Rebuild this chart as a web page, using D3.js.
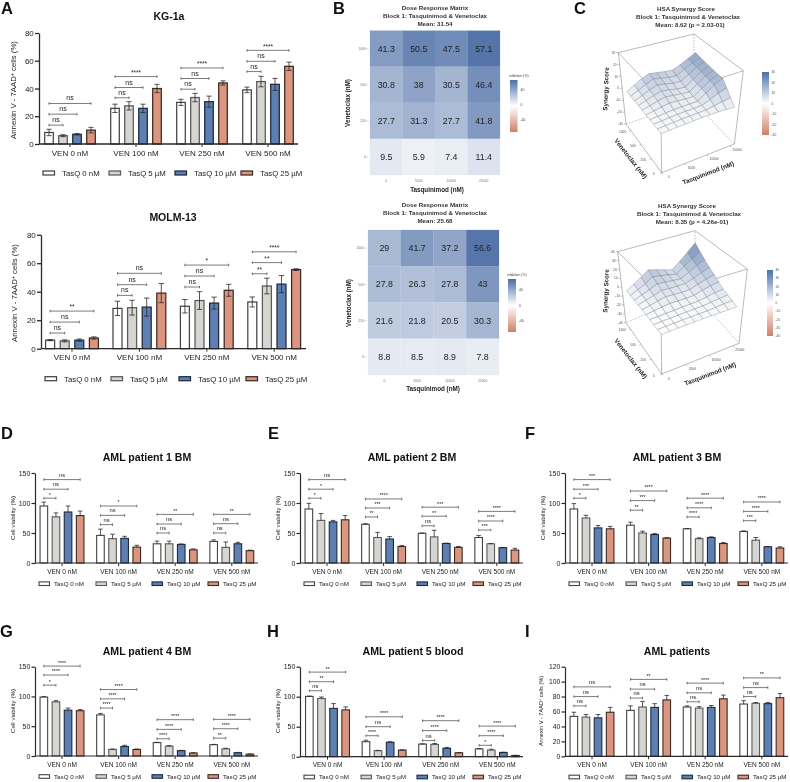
<!DOCTYPE html>
<html><head><meta charset="utf-8">
<script src="https://cdn.jsdelivr.net/npm/d3@7"></script>
<style>
html,body{margin:0;padding:0;background:#fff}
svg{display:block;filter:blur(.3px)}
text{font-family:"Liberation Sans",Arial,sans-serif;fill:#222}
</style></head><body><svg id="c" width="790" height="782"></svg>
<script>
// ---------- shared categories ----------
const groups = ["VEN 0 nM","VEN 100 nM","VEN 250 nM","VEN 500 nM"];
const series = ["TasQ 0 nM","TasQ 5 µM","TasQ 10 µM","TasQ 25 µM"];
const seriesColors = ["#ffffff","#d5d5d1","#5d7fb3","#dc967f"];
const seriesStrokes = ["#444444","#5a5a5a","#1f2a3d","#3a2a26"];
const yTicksA = [0,20,40,60,80];
const yTicksV = [0,50,100,150];
const yTicksI = [0,20,40,60,80,100,120];
const annexinLabel = "Annexin V - 7AAD";
const viabilityLabel = "Cell viability (%)";

// ---------- bar panels: means, errors, bracket heights, bracket labels ----------
const kg1aMeans=[[8.3,6,7,10],[25.7,27.5,25.7,40],[30,33.5,30.5,44],[39,45,43,56]];
const kg1aErr=[[2.3,.7,.5,2],[3,3,3,3],[2.2,3,4,1.5],[2,3.8,4.3,3]];
const kg1aBrY=[[13.6,21.5,29.2],[33.3,40.7,48.6],[39.5,47.2,54.8],[52.2,59.6,67.5]];
const kg1aBrL=[["ns","ns","ns"],["ns","ns","****"],["ns","ns","****"],["ns","ns","****"]];

const molmMeans=[[6,5.5,6,7.5],[28.3,28.8,29.2,39],[29.8,33.8,32,41],[32.8,44,45.3,55.5]];
const molmErr=[[.4,.7,.8,.8],[5,5.2,6.3,6.7],[4.7,6.2,4.2,4.2],[3.5,5.5,6,.6]];
const molmBrY=[[11,18.7,26.4],[37.4,44.9,52.9],[43.3,51,58.7],[52.6,60.4,68]];
const molmBrL=[["ns","ns","**"],["ns","ns","ns"],["ns","ns","*"],["**","**","****"]];

const p1Means=[[95,77,85,79],[46,40.5,41,26.5],[32,32,31,22],[36,26,32,20.5]];
const p1Err=[[6.5,6.5,10,7.5],[10.5,7.5,3.5,3],[4.5,4.5,.7,1.5],[2.5,9,2.5,1]];
const p1BrY=[[108,123,139],[64,79.4,95],[50,65,81],[50,65.5,81]];
const p1BrL=[["*","ns","ns"],["ns","ns","*"],["ns","ns","**"],["ns","ns","**"]];

const p2Means=[[90,71,68.5,72],[64.5,42.5,40,27.5],[49.5,43.5,32.5,26],[42.5,32,25.5,21.5]];
const p2Err=[[9.5,11.5,2.5,7],[1,8.5,4,1.5],[.5,11,.5,1.5],[3.5,.5,.5,3]];
const p2BrY=[[108,123,139],[76.7,91.7,106.7],[62,78,93],[55,70,86]];
const p2BrL=[["*","*","ns"],["**","***","****"],["ns","**","***"],["***","****","****"]];

const p3Means=[[90,75,58.5,57],[63,50,47.5,41.5],[57,40.5,42.5,32.5],[52.5,38,27,25]];
const p3Err=[[9,4.5,4,4],[5,3,1.5,.7],[.5,1.5,1,1.5],[1,4.5,.5,2]];
const p3BrY=[[108,123,139],[88,104,120],[76.7,92,108],[70.5,86,101.7]];
const p3BrL=[["*","***","***"],["**","***","****"],["****","****","****"],["***","****","****"]];

const p4Means=[[99,91,77,76],[69,11,16,11],[22.5,16.5,9,5],[19,12,5.5,3]];
const p4Err=[[.8,2,3.5,2],[2.5,.7,2,.7],[.5,1,.5,.5],[.5,1,.5,.5]];
const p4BrY=[[119,136,151],[80.5,96,111.7],[29,44.7,61],[30,45.8,61.5]];
const p4BrL=[["*","****","****"],["****","****","****"],["****","****","****"],["**","****","****"]];

const p5Means=[[100.5,97,80.5,78],[25,10,24,11],[21,20.5,14,6.5],[13,11,7,2]];
const p5Err=[[.5,2.5,8,5],[2.5,.5,1,.5],[.5,1.5,1.5,.5],[.5,1.5,.5,.3]];
const p5BrY=[[110,125,141],[35,50,66.5],[27,43.5,60],[19,35,51]];
const p5BrL=[["ns","**","**"],["****","ns","****"],["ns","****","****"],["*","****","****"]];

const allMeans=[[53.5,52.5,51.5,59],[61.5,66,65.5,75.5],[66,64.5,65.5,77],[70,71,70.5,78.5]];
const allErr=[[5.5,3.5,4.5,6.5],[6,7.5,5,6],[1.5,2,2.5,5],[4.5,1,1.5,5.5]];
const allBrY=[[67.5,80,93],[78,90,103],[73,85,98],[80,92,105]];
const allBrL=[["ns","ns","ns"],["ns","ns","**"],["ns","ns","****"],["ns","ns","**"]];

// ---------- heat maps ----------
const tasqLevels=["0","5000","10000","25000"];
const venLevels=["1000","500","250","0"];
const heatKG=[[41.3,50.5,47.5,57.1],[30.8,38,30.5,46.4],[27.7,31.3,27.7,41.8],[9.5,5.9,7.4,11.4]];
const heatMOLM=[[29,41.7,37.2,56.6],[27.8,26.3,27.8,43],[21.6,21.8,20.5,30.3],[8.8,8.5,8.9,7.8]];
const heatTicks=[40,0,-40];

// ---------- synergy surfaces (rows: venetoclax low to high; columns: tasquinimod low to high) ----------
const synergyKG=[
[1.3,1.5,1.8,2,2.2,2.4,2.5,2.3,1.9,1.5],
[1.4,1.7,2.1,2.4,2.6,2.8,3,4,5.2,6],
[1.5,1.9,2.4,2.8,3,3.1,3.3,6,9,11],
[1.5,2,2.6,3,3.2,3.3,3.5,8,12.5,16],
[1.6,2.8,4,5,4.6,4.2,4,8.5,13,16],
[1.8,3.5,5.2,6.5,5.8,5,4.5,9,13.5,16.5],
[2,4,6.2,8,6.8,5.6,5,9.5,14,17],
[2.1,4.6,7.2,9.5,8.2,7,6.5,10.5,14.5,17.5],
[2.2,5.2,8.2,11,9.6,8.4,8,11.5,15,18],
[2.3,6,9.5,12,11,10,9.4,12,15.5,19]];
const synergyMOLM=[
[0,.3,.6,1,1.2,1.3,1.5,1.6,1.7,1.8],
[.3,.6,1,1.3,1.5,1.7,1.9,2.6,3.4,3.6],
[.6,1,1.4,1.7,2,2.3,2.5,3.4,4.5,5.3],
[1,1.3,1.7,2,2.4,2.7,3,4.5,6,7],
[1.3,2.6,3.6,4.6,4.4,4.2,4.5,7,9,10.5],
[1.6,3.4,5.2,7,6.4,5.8,6,9,11.5,14],
[2,4.2,6.4,9,8.4,8,8,11,14.5,17.6],
[2.1,5,8,11.5,10.5,9.5,8.6,13,18,22],
[2.2,5.8,9.5,14.5,13,11,8.8,15,21,27],
[2.4,7,12,17.6,15,12,9,16,24,33]];
const zTicksKG=[30,20,10,0,-10,-20,-30];
const zTicksMOLM=[40,30,20,10,0,-10,-20,-30,-40];
const synXTicksKG=["0","5000","10000","15000"];
const synXTicksMOLM=["0","5000","10000","25000"];
const synYTicks=["0","250","500","1000"];

// ---------- drawing ----------
const svg=d3.select("#c");
const defs=svg.append("defs");
const INK="#2a2a2a";
const FONT='"Liberation Sans",Arial,sans-serif';

function txt(g,x,y,s,size,o={}){
  return g.append("text").attr("x",x).attr("y",y).text(s)
    .attr("font-size",size).attr("font-weight",o.bold?"bold":"normal")
    .attr("text-anchor",o.anchor||"middle")
    .attr("transform",o.rot!=null?`rotate(${o.rot} ${x} ${y})`:null)
    .style("fill",o.fill||"#222");
}

function barPanel(c){
  const g=svg.append("g");
  const y=d3.scaleLinear().domain([0,c.yMax]).range([c.y0,c.yTop]);
  const x0=d3.scaleBand().domain(groups).range([c.cx-c.step/2,c.cx+c.step*3.5]);
  const x1=d3.scaleBand().domain(series).range([-2*c.inner,2*c.inner]);
  const barC=(gi,si)=>x0(groups[gi])+x0.bandwidth()/2+x1(series[si])+x1.bandwidth()/2;

  c.means.forEach((row,gi)=>row.forEach((m,si)=>{
    const cx=barC(gi,si), top=y(m+c.err[gi][si]), low=y(c.both?m-c.err[gi][si]:m), cap=c.bw*.3;
    g.append("rect").attr("x",cx-c.bw/2).attr("y",y(m)).attr("width",c.bw).attr("height",y(0)-y(m))
      .attr("fill",seriesColors[si]).attr("stroke",seriesStrokes[si]).attr("stroke-width",c.sw);
    g.append("path").attr("d",`M${cx},${low}V${top}M${cx-cap},${top}H${cx+cap}`+(c.both?`M${cx-cap},${low}H${cx+cap}`:""))
      .attr("fill","none").attr("stroke",INK).attr("stroke-width",.8);
  }));
  c.brY.forEach((row,gi)=>row.forEach((v,k)=>{
    const xa=barC(gi,0), xb=barC(gi,k+1), yy=y(v), lab=c.brL[gi][k];
    g.append("path").attr("d",`M${xa},${yy-1.3}V${yy+1.3}M${xa},${yy}H${xb}M${xb},${yy-1.3}V${yy+1.3}`)
      .attr("fill","none").attr("stroke","#444").attr("stroke-width",.7);
    txt(g,(xa+xb)/2,yy-(lab==="ns"?3:1.6),lab,lab==="ns"?c.nsSize:c.nsSize-.5);
  }));
  const ya=g.append("g").attr("transform",`translate(${c.ax},0)`)
    .call(d3.axisLeft(y).tickValues(c.ticks).tickSizeInner(c.big?4:3.5).tickSizeOuter(0).tickPadding(1.2));
  ya.selectAll("text").attr("font-size",c.tickSize).style("font-family",FONT).style("fill","#222");
  ya.selectAll("line,path").attr("stroke",INK).attr("stroke-width",c.axw);
  const xa=g.append("g").attr("transform",`translate(0,${c.y0})`)
    .call(d3.axisBottom(x0).tickSizeInner(3).tickSizeOuter(0).tickPadding(3));
  xa.select(".domain").remove();
  xa.selectAll("text").attr("font-size",c.catSize).style("font-family",FONT).style("fill","#222");
  xa.selectAll("line").attr("stroke",INK).attr("stroke-width",1);
  g.append("line").attr("x1",c.ax).attr("x2",c.xEnd).attr("y1",c.y0).attr("y2",c.y0).attr("stroke",INK).attr("stroke-width",c.axw);

  txt(g,c.tx,c.ty,c.title,c.titleSize,{bold:true,fill:"#111"});

  // y label
  const yl=g.append("text").attr("transform",`translate(${c.lx},${c.ly}) rotate(-90)`).attr("text-anchor","middle")
    .attr("font-size",c.labelSize);
  if(c.label===annexinLabel){
    yl.append("tspan").text(annexinLabel);
    yl.append("tspan").text("+").attr("font-size",c.labelSize*.65).attr("dy",-2);
    yl.append("tspan").text(" cells (%)").attr("dy",2);
  } else yl.text(c.label);

  // legend
  series.forEach((s,i)=>{
    g.append("rect").attr("x",c.legX[i]).attr("y",c.legY-c.legH/2).attr("width",c.legW).attr("height",c.legH)
      .attr("fill",seriesColors[i]).attr("stroke",seriesStrokes[i]).attr("stroke-width",c.sw);
    txt(g,c.legX[i]+c.legT,c.legY+c.legSize*.36,s,c.legSize,{anchor:"start"});
  });
}

const bigBase={big:true,sw:1.25,axw:1.3,nsSize:7,tickSize:8,catSize:8,titleSize:10.5,labelSize:7.8,legW:11.5,legH:4,legT:19,legSize:7.8,yMax:80,ticks:yTicksA,both:true,label:annexinLabel,bw:8.6};
barPanel({...bigBase,means:kg1aMeans,err:kg1aErr,brY:kg1aBrY,brL:kg1aBrL,title:"KG-1a",tx:169,ty:20,
  ax:39,xEnd:298,y0:144,yTop:33,cx:70,step:66,inner:14,lx:16,ly:90,legX:[43,109,175,241],legY:173});
barPanel({...bigBase,means:molmMeans,err:molmErr,brY:molmBrY,brL:molmBrL,title:"MOLM-13",tx:173,ty:221,
  ax:41,xEnd:306,y0:348.7,yTop:234.7,cx:72,step:67.4,inner:14.6,lx:17,ly:293,legX:[45,111,179,246],legY:378.7,bw:9});

const smallBase={big:false,sw:1.1,axw:1.2,nsSize:5.8,tickSize:7,catSize:6.5,titleSize:10.6,labelSize:6.2,legW:10.5,legH:3.6,legT:15,legSize:6.2,yMax:150,ticks:yTicksV,both:false,label:viabilityLabel,bw:7.6,step:56.6,inner:12.1,lx:15};
const legD=o=>[39,96,152,208].map(v=>v+o);
barPanel({...smallBase,means:p1Means,err:p1Err,brY:p1BrY,brL:p1BrL,title:"AML patient 1 BM",tx:147,ty:461,
  ax:35,xEnd:258,y0:563,yTop:473,cx:62,ly:518,legX:legD(0),legY:583.7});
barPanel({...smallBase,means:p2Means,err:p2Err,brY:p2BrY,brL:p2BrL,title:"AML patient 2 BM",tx:412,ty:461,
  ax:300,xEnd:523,y0:563,yTop:473,cx:327,lx:280,ly:518,legX:legD(265),legY:583.7});
barPanel({...smallBase,means:p3Means,err:p3Err,brY:p3BrY,brL:p3BrL,title:"AML patient 3 BM",tx:677,ty:461,
  ax:565,xEnd:788,y0:563,yTop:473,cx:592,lx:545,ly:518,legX:legD(530),legY:583.7});
barPanel({...smallBase,means:p4Means,err:p4Err,brY:p4BrY,brL:p4BrL,title:"AML patient 4 BM",tx:147,ty:655,
  ax:35,xEnd:258,y0:756,yTop:666.7,cx:62,ly:711,legX:legD(0),legY:776.5});
barPanel({...smallBase,means:p5Means,err:p5Err,brY:p5BrY,brL:p5BrL,title:"AML patient 5 blood",tx:413,ty:655,
  ax:300,xEnd:523,y0:756.7,yTop:666.7,cx:327.5,lx:280,ly:711,legX:legD(265),legY:777});
barPanel({...smallBase,means:allMeans,err:allErr,brY:allBrY,brL:allBrL,title:"AML patients",tx:677,ty:655,
  ax:565,xEnd:788,y0:756.3,yTop:666.7,cx:592,lx:543,ly:711,legX:legD(530),legY:777,yMax:120,ticks:yTicksI,label:annexinLabel,labelSize:5.6,tickSize:6.8});

// panel letters
[["A",1,14],["B",333,14],["C",574,14],["D",1,439],["E",268,439],["F",525,439],["G",0,637],["H",267,637],["I",525,637]]
  .forEach(([s,x,y])=>txt(svg,x,y,s,16.5,{bold:true,anchor:"start",fill:"#111"}));

// colour scale helper
function divColor(lim){return d3.scaleLinear().domain([-lim,0,lim]).range(["#d07f68","#ffffff","#4c6ea6"]).clamp(true);}
let gid=0;
function colorBar(g,color,lim,x,w,yt,yb){
  const id="cb"+(gid++), gr=defs.append("linearGradient").attr("id",id).attr("x1",0).attr("x2",0).attr("y1",0).attr("y2",1);
  d3.range(0,1.001,.125).forEach(t=>gr.append("stop").attr("offset",t).attr("stop-color",color(lim-2*lim*t)));
  g.append("rect").attr("x",x).attr("y",yt).attr("width",w).attr("height",yb-yt).attr("fill",`url(#${id})`);
}

function heat(c){
  const g=svg.append("g");
  const x=d3.scaleBand().domain(tasqLevels).range([c.x0,c.x1]);
  const y=d3.scaleBand().domain(venLevels).range([c.y0,c.y1]);
  const color=divColor(60);
  c.data.forEach((row,r)=>row.forEach((v,k)=>{
    g.append("rect").attr("x",x(tasqLevels[k])).attr("y",y(venLevels[r])).attr("width",x.bandwidth()).attr("height",y.bandwidth())
      .attr("fill",color(v)).attr("stroke",color(v)).attr("stroke-width",.2);
    txt(g,x(tasqLevels[k])+x.bandwidth()/2,y(venLevels[r])+y.bandwidth()/2+3.1,v,8.8,{fill:"#222"});
  }));
  tasqLevels.forEach(t=>txt(g,x(t)+x.bandwidth()/2,c.y1+7,t,3.4,{fill:"#777"}));
  venLevels.forEach(t=>{
    txt(g,c.x0-4,y(t)+y.bandwidth()/2+1.2,t,3.4,{anchor:"end",fill:"#777"});
    g.append("line").attr("x1",c.x0-3.5).attr("x2",c.x0-1.5).attr("y1",y(t)+y.bandwidth()/2).attr("y2",y(t)+y.bandwidth()/2).attr("stroke","#888").attr("stroke-width",.4);
  });
  c.title.forEach((t,i)=>txt(g,c.tx,c.ty[i],t,6.2,{bold:true,fill:"#333"}));
  txt(g,c.xlx,c.xly,"Tasquinimod (nM)",6.3,{bold:true,fill:"#222"});
  txt(g,c.ylx,c.yly,"Venetoclax (nM)",6.3,{bold:true,fill:"#222",rot:-90});
  txt(g,c.lgX-1,c.lgT-3,"inhibition (%)",3.4,{anchor:"start",fill:"#444"});
  colorBar(g,color,60,c.lgX,c.lgW,c.lgT,c.lgB);
  const lyScale=d3.scaleLinear().domain([40,-40]).range([c.lg40,c.lgm40]);
  heatTicks.forEach(t=>txt(g,c.lgX+c.lgW+3,lyScale(t)+1.2,t,3.4,{anchor:"start",fill:"#444"}));
}
heat({data:heatKG,x0:370,x1:500,y0:30.7,y1:175,tx:435,ty:[10,18,26],title:["Dose Response Matrix","Block 1: Tasquinimod & Venetoclax","Mean: 31.54"],
  xlx:437,xly:192,ylx:350,yly:103,lgX:510,lgW:7.5,lgT:80,lgB:132,lg40:90,lgm40:120});
heat({data:heatMOLM,x0:368,x1:499,y0:230,y1:375,tx:435,ty:[207,215,223],title:["Dose Response Matrix","Block 1: Tasquinimod & Venetoclax","Mean: 25.68"],
  xlx:433,xly:391,ylx:351,yly:303,lgX:508,lgW:8,lgT:279,lgB:332,lg40:290,lgm40:321});

function surface(c){
  const g=svg.append("g");
  const pt=p=>[c.ox+p[0]/3,c.oy+p[1]/3];
  const lerp=(a,b,t)=>[a[0]+(b[0]-a[0])*t,a[1]+(b[1]-a[1])*t];
  const F0=pt(c.F[0]),F1=pt(c.F[1]),R0=pt(c.R[0]),R1=pt(c.R[1]),L0=pt(c.L[0]),L1=pt(c.L[1]),B0=pt(c.B[0]),B1=pt(c.B[1]);
  const proj=(u,v,w)=>{
    const floor=lerp(lerp(F0,R0,u),lerp(L0,B0,u),v), top=lerp(lerp(F1,R1,u),lerp(L1,B1,u),v);
    return lerp(floor,top,w);
  };
  const n=c.data.length;
  const uS=d3.scaleLinear().domain([0,n-1]).range([0,c.uMax]);
  const vS=d3.scaleLinear().domain([0,n-1]).range([0,c.vMax]);
  const wS=d3.scaleLinear().domain([-c.lim,c.lim]).range([0,1]);
  const color=divColor(c.lim);
  const ln=(a,b,dash)=>g.append("line").attr("x1",a[0]).attr("y1",a[1]).attr("x2",b[0]).attr("y2",b[1])
     .attr("stroke","#777").attr("stroke-width",.5).attr("stroke-dasharray",dash?"1.5,1.5":null);
  ln(B0,B1,true);ln(B0,L0,true);ln(B0,R0,true);
  ln(L0,L1);ln(R0,R1);ln(F0,F1);ln(L1,B1);ln(B1,R1);ln(L1,F1);ln(R1,F1);ln(L0,F0);ln(R0,F0);
  const cells=[];
  for(let j=0;j<n-1;j++)for(let i=0;i<n-1;i++)cells.push([i,j]);
  cells.sort((a,b)=>(b[0]+b[1])-(a[0]+a[1]));
  const P=(i,j)=>proj(uS(i),vS(j),wS(c.data[j][i]));
  const line=d3.line();
  cells.forEach(([i,j])=>{
    const m=(c.data[j][i]+c.data[j][i+1]+c.data[j+1][i]+c.data[j+1][i+1])/4;
    g.append("path").attr("d",line([P(i,j),P(i+1,j),P(i+1,j+1),P(i,j+1)])+"Z")
      .attr("fill",color(m)).attr("stroke","#6a6a6a").attr("stroke-width",.32).attr("stroke-linejoin","round");
  });
  c.zTicks.forEach(t=>{
    const p=proj(0,1,wS(t));
    g.append("line").attr("x1",p[0]-2).attr("x2",p[0]).attr("y1",p[1]).attr("y2",p[1]).attr("stroke","#666").attr("stroke-width",.4);
    txt(g,p[0]-3,p[1]+1.1,t,3.3,{anchor:"end",fill:"#555"});
  });
  c.xTicks.forEach((t,k)=>{
    const p=proj(uS(k*3),0,0);
    g.append("line").attr("x1",p[0]).attr("x2",p[0]+1.5).attr("y1",p[1]).attr("y2",p[1]+1.5).attr("stroke","#666").attr("stroke-width",.4);
    txt(g,p[0]+7,p[1]+5.5,t,3.3,{fill:"#555"});
  });
  synYTicks.forEach((t,k)=>{
    const p=proj(0,vS(k*3),0);
    g.append("line").attr("x1",p[0]).attr("x2",p[0]-1.5).attr("y1",p[1]).attr("y2",p[1]+1).attr("stroke","#666").attr("stroke-width",.4);
    txt(g,p[0]-8,p[1]+2.5,t,3.3,{fill:"#555"});
  });
  c.title.forEach((t,i)=>txt(g,c.tx[i],c.ty[i],t,6.2,{bold:true,fill:"#333"}));
  txt(g,c.xl[0],c.xl[1],"Tasquinimod (nM)",6.4,{bold:true,rot:-21});
  txt(g,c.yl[0],c.yl[1],"Venetoclax (nM)",6.4,{bold:true,rot:52});
  txt(g,c.zl[0],c.zl[1],"Synergy Score",6.2,{bold:true,rot:-88});
  colorBar(g,color,c.lim,c.bar[0],c.bar[1],c.bar[2],c.bar[3]);
  const ly=d3.scaleLinear().domain([c.lim,-c.lim]).range([c.bar[2],c.bar[3]]);
  c.zTicks.forEach(t=>txt(g,c.bar[0]+c.bar[1]+2.5,ly(t)+1.1,t,3.3,{anchor:"start",fill:"#555"}));
}
surface({data:synergyKG,lim:30,zTicks:zTicksKG,xTicks:synXTicksKG,ox:540,oy:0,uMax:.94,vMax:.87,
  F:[[365,518],[362,293]],R:[[583,432],[610,212]],L:[[258,372],[235,158]],B:[[460,305],[462,102]],
  title:["HSA Synergy Score","Block 1: Tasquinimod & Venetoclax","Mean: 8.62 (p = 2.03-01)"],tx:[686,688,690],ty:[11,19,27],
  xl:[709,175],yl:[629,160],zl:[608,89],bar:[762,7,72,135]});
surface({data:synergyMOLM,lim:40,zTicks:zTicksMOLM,xTicks:synXTicksMOLM,ox:540,oy:190,uMax:.92,vMax:.877,
  F:[[365,552],[363,315]],R:[[597,460],[622,237]],L:[[258,398],[233,185]],B:[[465,310],[465,122]],
  title:["HSA Synergy Score","Block 1: Tasquinimod & Venetoclax","Mean: 8.35 (p = 4.26e-01)"],tx:[687,689,692],ty:[208,216,224],
  xl:[711,376],yl:[629,360],zl:[608,291],bar:[767,6,270,336]});
</script></body></html>
